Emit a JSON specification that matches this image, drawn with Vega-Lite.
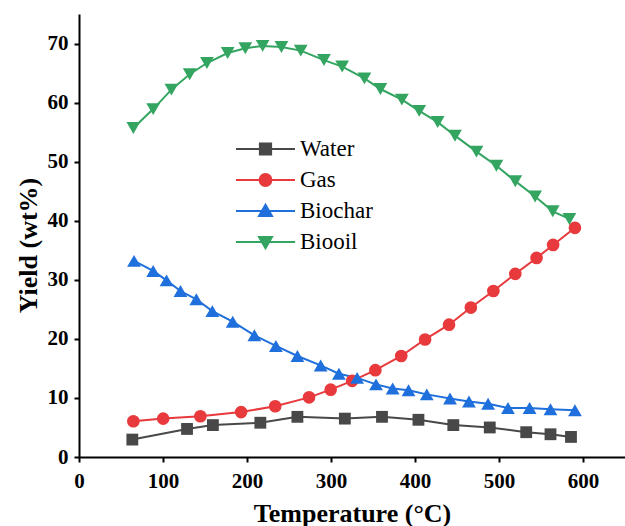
{
  "$schema": "https://vega.github.io/schema/vega-lite/v6.json",
  "width": 546,
  "height": 443,
  "autosize": "none",
  "padding": {"left": 79, "top": 14, "right": 0, "bottom": 69},
  "background": "white",
  "config": {
    "view": {"stroke": null},
    "axis": {
      "grid": false,
      "domainColor": "black",
      "domainWidth": 2,
      "tickColor": "black",
      "tickWidth": 2,
      "tickSize": 5,
      "labelFlush": false,
      "labelFont": "Liberation Serif",
      "labelFontWeight": "bold",
      "labelFontSize": 21,
      "labelColor": "black",
      "titleFont": "Liberation Serif",
      "titleFontWeight": "bold",
      "titleFontSize": 26,
      "titleColor": "black"
    }
  },
  "data": {
    "values": [
      {"series": "Water", "T": 63.5, "Y": 2.95},
      {"series": "Water", "T": 128.6, "Y": 4.75},
      {"series": "Water", "T": 159.4, "Y": 5.4},
      {"series": "Water", "T": 215.9, "Y": 5.8},
      {"series": "Water", "T": 260, "Y": 6.8},
      {"series": "Water", "T": 316.5, "Y": 6.5},
      {"series": "Water", "T": 360.7, "Y": 6.8},
      {"series": "Water", "T": 404.1, "Y": 6.3},
      {"series": "Water", "T": 445.6, "Y": 5.4},
      {"series": "Water", "T": 489, "Y": 5.0},
      {"series": "Water", "T": 532.4, "Y": 4.2},
      {"series": "Water", "T": 561.3, "Y": 3.85},
      {"series": "Water", "T": 585.7, "Y": 3.4},
      {"series": "Gas", "T": 64.7, "Y": 6.05},
      {"series": "Gas", "T": 100.2, "Y": 6.5},
      {"series": "Gas", "T": 144.5, "Y": 6.9},
      {"series": "Gas", "T": 193, "Y": 7.6},
      {"series": "Gas", "T": 233.6, "Y": 8.6},
      {"series": "Gas", "T": 273.9, "Y": 10.1},
      {"series": "Gas", "T": 299.6, "Y": 11.4},
      {"series": "Gas", "T": 325.2, "Y": 12.9},
      {"series": "Gas", "T": 352.8, "Y": 14.7},
      {"series": "Gas", "T": 383.6, "Y": 17.1},
      {"series": "Gas", "T": 412, "Y": 19.9},
      {"series": "Gas", "T": 440.5, "Y": 22.4},
      {"series": "Gas", "T": 466.5, "Y": 25.3},
      {"series": "Gas", "T": 493.3, "Y": 28.1},
      {"series": "Gas", "T": 519.4, "Y": 31.0},
      {"series": "Gas", "T": 544.7, "Y": 33.7},
      {"series": "Gas", "T": 564.4, "Y": 35.9},
      {"series": "Gas", "T": 590.4, "Y": 38.8},
      {"series": "Biochar", "T": 65.5, "Y": 33.2},
      {"series": "Biochar", "T": 88.3, "Y": 31.5},
      {"series": "Biochar", "T": 104.2, "Y": 29.9},
      {"series": "Biochar", "T": 120.8, "Y": 28.1},
      {"series": "Biochar", "T": 139.7, "Y": 26.7},
      {"series": "Biochar", "T": 158.7, "Y": 24.7},
      {"series": "Biochar", "T": 183, "Y": 22.9},
      {"series": "Biochar", "T": 208.8, "Y": 20.6},
      {"series": "Biochar", "T": 234.4, "Y": 18.8},
      {"series": "Biochar", "T": 260, "Y": 17.1},
      {"series": "Biochar", "T": 287.7, "Y": 15.5},
      {"series": "Biochar", "T": 309.4, "Y": 14.1},
      {"series": "Biochar", "T": 331.1, "Y": 13.4},
      {"series": "Biochar", "T": 353.6, "Y": 12.3},
      {"series": "Biochar", "T": 373.4, "Y": 11.6},
      {"series": "Biochar", "T": 392.3, "Y": 11.3},
      {"series": "Biochar", "T": 414, "Y": 10.6},
      {"series": "Biochar", "T": 441.7, "Y": 9.9},
      {"series": "Biochar", "T": 464.2, "Y": 9.4},
      {"series": "Biochar", "T": 487, "Y": 9.0},
      {"series": "Biochar", "T": 510.7, "Y": 8.3},
      {"series": "Biochar", "T": 536.4, "Y": 8.3},
      {"series": "Biochar", "T": 561.3, "Y": 8.1},
      {"series": "Biochar", "T": 590.4, "Y": 7.9},
      {"series": "Biooil", "T": 64.7, "Y": 55.7},
      {"series": "Biooil", "T": 88.3, "Y": 58.9},
      {"series": "Biooil", "T": 110, "Y": 62.2},
      {"series": "Biooil", "T": 131.8, "Y": 64.8},
      {"series": "Biooil", "T": 152.3, "Y": 66.7},
      {"series": "Biooil", "T": 177, "Y": 68.4},
      {"series": "Biooil", "T": 198, "Y": 69.2},
      {"series": "Biooil", "T": 218.6, "Y": 69.6},
      {"series": "Biooil", "T": 241, "Y": 69.4},
      {"series": "Biooil", "T": 264, "Y": 68.8},
      {"series": "Biooil", "T": 291.6, "Y": 67.2},
      {"series": "Biooil", "T": 313.3, "Y": 66.1},
      {"series": "Biooil", "T": 339.8, "Y": 64.1},
      {"series": "Biooil", "T": 358.8, "Y": 62.3},
      {"series": "Biooil", "T": 384.4, "Y": 60.5},
      {"series": "Biooil", "T": 405, "Y": 58.6},
      {"series": "Biooil", "T": 427, "Y": 56.7},
      {"series": "Biooil", "T": 447.6, "Y": 54.4},
      {"series": "Biooil", "T": 473.2, "Y": 51.7},
      {"series": "Biooil", "T": 496.9, "Y": 49.3},
      {"series": "Biooil", "T": 519.4, "Y": 46.7},
      {"series": "Biooil", "T": 543, "Y": 44.1},
      {"series": "Biooil", "T": 564, "Y": 41.6},
      {"series": "Biooil", "T": 583.8, "Y": 40.3}
    ]
  },
  "encoding": {
    "x": {
      "field": "T", "type": "quantitative",
      "scale": {"domain": [0, 650], "nice": false, "zero": false},
      "axis": {"values": [0, 100, 200, 300, 400, 500, 600], "title": "Temperature (°C)", "labelPadding": 8, "titlePadding": 9}
    },
    "y": {
      "field": "Y", "type": "quantitative",
      "scale": {"domain": [0, 75], "nice": false},
      "axis": {"values": [0, 10, 20, 30, 40, 50, 60, 70], "title": "Yield (wt%)", "labelPadding": 6, "titlePadding": 6, "titleY": 231}
    },
    "color": {
      "field": "series", "type": "nominal",
      "scale": {"domain": ["Water", "Gas", "Biochar", "Biooil"], "range": ["#484848", "#e8393c", "#1f6fdc", "#33a561"]},
      "legend": {
        "orient": "none",
        "legendX": 156,
        "legendY": 122,
        "title": null,
        "padding": 0,
        "labelFont": "Liberation Serif",
        "labelFontSize": 23,
        "labelColor": "black",
        "labelOffset": 4,
        "rowPadding": 5,
        "clipHeight": 26,
        "symbolSize": 3481,
        "symbolOffset": 0,
        "symbolStrokeWidth": 2,
        "encode": {
          "symbols": {
            "update": {
              "size": {"value": 3481},
              "strokeWidth": {"value": 2},
              "stroke": {"scale": "color", "field": "value"},
              "fill": {"scale": "color", "field": "value"},
              "shape": {"signal": "datum.value === 'Water' ? 'M-1,0H1M-0.19,-0.19H0.19V0.19H-0.19Z' : datum.value === 'Gas' ? 'M-1,0H1M-0.2,0A0.2,0.2 0 1,0 0.2,0A0.2,0.2 0 1,0 -0.2,0Z' : datum.value === 'Biochar' ? 'M-1,0H1M0,-0.21L0.22,0.17L-0.22,0.17Z' : 'M-1,0H1M0,0.21L0.22,-0.17L-0.22,-0.17Z'"}
            }
          }
        }
      }
    }
  },
  "layer": [
    {
      "mark": {"type": "line", "strokeWidth": 2},
      "encoding": {"detail": {"field": "series"}}
    },
    {
      "transform": [{"filter": "datum.series === 'Water'"}],
      "mark": {"type": "point", "filled": true, "opacity": 1, "size": 140, "shape": "square"}
    },
    {
      "transform": [{"filter": "datum.series === 'Gas'"}],
      "mark": {"type": "point", "filled": true, "opacity": 1, "size": 160, "shape": "circle"}
    },
    {
      "transform": [{"filter": "datum.series === 'Biochar'"}],
      "mark": {"type": "point", "filled": true, "opacity": 1, "size": 190, "shape": "triangle-up"}
    },
    {
      "transform": [{"filter": "datum.series === 'Biooil'"}],
      "mark": {"type": "point", "filled": true, "opacity": 1, "size": 190, "shape": "triangle-down"}
    }
  ]
}
